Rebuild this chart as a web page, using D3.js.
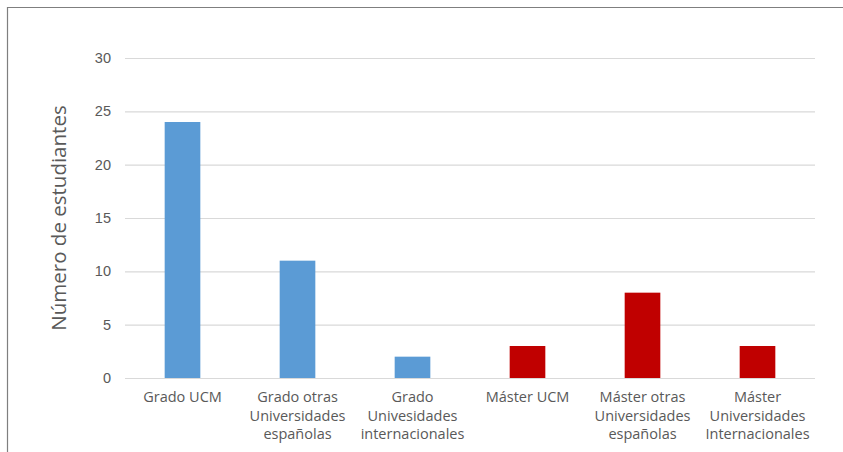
<!DOCTYPE html>
<html>
<head>
<meta charset="utf-8">
<script src="https://cdn.jsdelivr.net/npm/d3@7"></script>
<style>
  body { margin: 0; background: #fff; }
  svg { display: block; font-family: "Open Sans", "Noto Sans", sans-serif; }
</style>
</head>
<body>
<svg id="chart" width="843" height="452"></svg>
<script>
// categories (label lines) and values
const categories = [
  ["Grado UCM"],
  ["Grado otras", "Universidades", "españolas"],
  ["Grado", "Univesidades", "internacionales"],
  ["Máster UCM"],
  ["Máster otras", "Universidades", "españolas"],
  ["Máster", "Universidades", "Internacionales"]
];
const values = [24, 11, 2, 3, 8, 3];
const groups = ["grado", "grado", "grado", "master", "master", "master"];
const yTicks = [0, 5, 10, 15, 20, 25, 30];
const yTitle = "Número de estudiantes";

const colorFor = { grado: "#5B9BD5", master: "#C00000" };

const svg = d3.select("#chart");
const W = 843, H = 452;
const margin = { top: 58, right: 28, bottom: 74, left: 125 };
const innerW = W - margin.left - margin.right;
const innerH = H - margin.top - margin.bottom;

// frame around the picture
svg.append("path")
  .attr("d", `M7.5,${H} V7.5 H${W}`)
  .attr("fill", "none")
  .attr("stroke", "#7f7f7f")
  .attr("stroke-width", 1.2);

const g = svg.append("g").attr("transform", `translate(${margin.left},${margin.top})`);

const keys = categories.map((d, i) => i);
const x = d3.scaleBand().domain(keys).range([0, innerW]).paddingInner(0.69).paddingOuter(0.345);
const y = d3.scaleLinear().domain([0, 30]).range([innerH, 0]);

// gridlines
g.append("g")
  .selectAll("line")
  .data(yTicks)
  .join("line")
  .attr("x1", 0).attr("x2", innerW)
  .attr("y1", d => y(d) + 0.5).attr("y2", d => y(d) + 0.5)
  .attr("stroke", "#d9d9d9")
  .attr("stroke-width", 1.2);

// y axis labels
const yAxis = g.append("g")
  .call(d3.axisLeft(y).tickValues(yTicks).tickSize(0).tickPadding(14));
yAxis.select(".domain").remove();
yAxis.selectAll("text")
  .attr("fill", "#595959")
  .style("font-size", "14.5px");

// bars
g.append("g")
  .selectAll("rect")
  .data(values)
  .join("rect")
  .attr("x", (d, i) => x(i))
  .attr("width", x.bandwidth())
  .attr("y", d => y(d))
  .attr("height", d => innerH - y(d))
  .attr("fill", (d, i) => colorFor[groups[i]]);

// x labels
const full = d3.scaleBand().domain(keys).range([0, innerW]);
const lab = g.append("g")
  .selectAll("text")
  .data(categories)
  .join("text")
  .attr("text-anchor", "middle")
  .attr("fill", "#595959")
  .style("font-size", "14.5px")
  .attr("transform", (d, i) => `translate(${full(i) + full.bandwidth() / 2},${innerH + 24})`);
lab.selectAll("tspan")
  .data(d => d)
  .join("tspan")
  .attr("x", 0)
  .attr("dy", (d, i) => i === 0 ? 0 : 18.5)
  .text(d => d);

// y title
svg.append("text")
  .attr("transform", `translate(66,${margin.top + innerH / 2}) rotate(-90)`)
  .attr("text-anchor", "middle")
  .attr("fill", "#595959")
  .style("font-size", "20.5px")
  .text(yTitle);
</script>
</body>
</html>
